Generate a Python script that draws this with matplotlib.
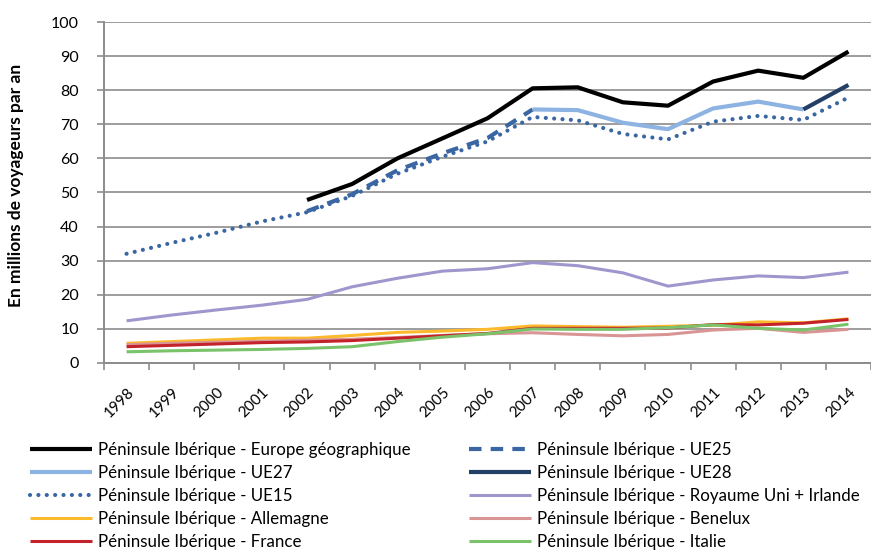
import matplotlib
matplotlib.use("Agg")
import matplotlib.pyplot as plt
import matplotlib.transforms as mtransforms
import numpy as np

plt.rcParams['font.family'] = ['Lato', 'DejaVu Sans']

years = [str(y) for y in range(1998, 2015)]

europe_geo = [None, None, None, None, 47.8, 52.5, 60.0, 65.9, 71.8, 80.6, 80.9, 76.5, 75.5, 82.6, 85.8, 83.7, 91.4]
ue25 = [None, None, None, None, 44.5, 49.5, 56.5, 61.5, 66.0, 74.4, None, None, None, None, None, None, None]
ue27 = [None, None, None, None, None, None, None, None, None, 74.4, 74.2, 70.5, 68.6, 74.7, 76.7, 74.4, None]
ue28 = [None, None, None, None, None, None, None, None, None, None, None, None, None, None, None, 74.4, 81.6]
ue15 = [32.0, 35.2, 38.2, 41.5, 44.2, 49.0, 55.5, 60.5, 65.0, 72.2, 71.2, 67.2, 65.6, 70.8, 72.5, 71.3, 77.9]
ru_irl = [12.3, 14.0, 15.5, 16.9, 18.6, 22.3, 24.8, 26.9, 27.6, 29.4, 28.5, 26.4, 22.5, 24.3, 25.5, 25.0, 26.6]
allemagne = [5.7, 6.2, 6.7, 7.2, 7.2, 8.0, 8.9, 9.3, 9.8, 10.8, 10.6, 10.4, 10.7, 11.0, 12.0, 11.7, 12.9]
benelux = [5.3, 5.7, 6.0, 6.3, 6.6, 6.9, 7.4, 8.0, 8.5, 8.8, 8.3, 7.9, 8.3, 9.6, 10.1, 8.9, 9.8]
france = [4.7, 5.1, 5.5, 5.9, 6.1, 6.5, 7.2, 7.9, 8.6, 10.1, 10.1, 10.1, 10.2, 11.2, 11.1, 11.6, 12.7]
italie = [3.2, 3.5, 3.7, 3.9, 4.2, 4.7, 6.2, 7.5, 8.5, 9.9, 9.8, 9.8, 10.3, 11.1, 10.1, 9.6, 11.3]

series = [
    ("Péninsule Ibérique - Europe géographique", europe_geo, dict(color="#000000", lw=3.0)),
    ("Péninsule Ibérique - UE25", ue25, dict(color="#3A67A3", lw=3.0, dashes=(3, 2.2))),
    ("Péninsule Ibérique - UE27", ue27, dict(color="#8DB3E2", lw=3.0)),
    ("Péninsule Ibérique - UE28", ue28, dict(color="#243F66", lw=3.0)),
    ("Péninsule Ibérique - UE15", ue15, dict(color="#3A67A3", lw=3.0, linestyle=(0, (0.01, 2.0)), dash_capstyle='round')),
    ("Péninsule Ibérique - Royaume Uni + Irlande", ru_irl, dict(color="#A095CC", lw=2.2)),
    ("Péninsule Ibérique - Allemagne", allemagne, dict(color="#FDB92C", lw=2.2)),
    ("Péninsule Ibérique - Benelux", benelux, dict(color="#D99594", lw=2.2)),
    ("Péninsule Ibérique - France", france, dict(color="#C4222B", lw=2.2)),
    ("Péninsule Ibérique - Italie", italie, dict(color="#7AC36A", lw=2.2)),
]

fig = plt.figure(figsize=(8.71, 5.5), dpi=100)
ax = fig.add_axes([104/871, 1-362.7/550, (871-104)/871, (362.7-22.3)/550])

x = np.arange(len(years))
handles = {}
for name, vals, style in series:
    y = np.array([np.nan if v is None else v for v in vals], dtype=float)
    st = dict(style)
    st.setdefault('solid_capstyle', 'butt')
    h, = ax.plot(x, y, label=name, **st)
    handles[name] = h

ax.set_xlim(-0.5, len(years) - 0.5)
ax.set_ylim(0, 100)
ax.set_yticks(range(0, 101, 10))
ax.grid(axis='y', color='#8C8C8C', lw=1.2)
ax.set_axisbelow(True)

ax.set_xticks(np.arange(-0.5, len(years), 1.0))
ax.set_xticklabels([])
ax.set_xticks(x, minor=True)
ax.set_xticklabels(years, minor=True, rotation=45, ha='right', va='center',
                   rotation_mode='anchor', fontsize=11)
ax.tick_params(axis='x', which='minor', length=0, pad=20)
ax.tick_params(axis='x', which='major', length=5, color='#8C8C8C', width=1.2)
ax.tick_params(axis='y', length=5, color='#8C8C8C', width=1.2, labelsize=11.5, pad=13)
offset = mtransforms.ScaledTranslation(5/100, 0, fig.dpi_scale_trans)
for lab in ax.get_xticklabels(minor=True):
    lab.set_transform(lab.get_transform() + offset)

for s in ['top', 'right']:
    ax.spines[s].set_visible(False)
for s in ['left', 'bottom']:
    ax.spines[s].set_color('#8C8C8C')
    ax.spines[s].set_linewidth(1.4)

fig.text(16/871, 1-185/550, "En millions de voyageurs par an", rotation=90,
         ha='center', va='center', fontsize=12.5, fontweight='bold')

order = ["Péninsule Ibérique - Europe géographique", "Péninsule Ibérique - UE27",
         "Péninsule Ibérique - UE15", "Péninsule Ibérique - Allemagne",
         "Péninsule Ibérique - France", "Péninsule Ibérique - UE25",
         "Péninsule Ibérique - UE28", "Péninsule Ibérique - Royaume Uni + Irlande",
         "Péninsule Ibérique - Benelux", "Péninsule Ibérique - Italie"]
fig.legend([handles[n] for n in order], order, ncol=2, loc='upper left',
           bbox_to_anchor=(23/871, 1-435/550), frameon=False, fontsize=12.2,
           handlelength=3.65, handletextpad=0.35, labelspacing=0.42,
           columnspacing=3.5, borderaxespad=0)

fig.savefig("out.png", dpi=100)
